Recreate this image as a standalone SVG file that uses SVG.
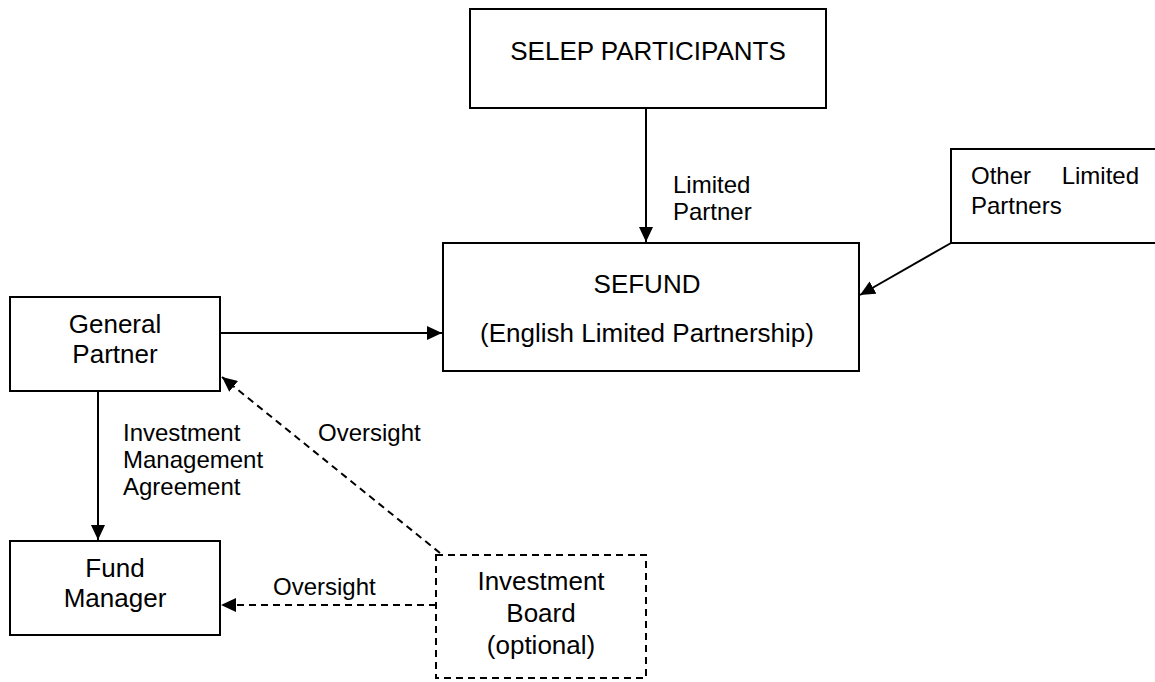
<svg xmlns="http://www.w3.org/2000/svg" width="1155" height="682" viewBox="0 0 1155 682">
  <style>
    .box { fill: #ffffff; stroke: #000000; stroke-width: 2; }
    .dashed { stroke-dasharray: 7 5; }
    .node { font-family: "Liberation Sans", Arial, sans-serif; font-size: 26px; fill: #000000; text-anchor: middle; }
    .label { font-family: "Liberation Sans", Arial, sans-serif; font-size: 24px; fill: #000000; }
    .edge { fill: none; stroke: #000000; stroke-width: 2; }
  </style>
  <defs>
    <marker id="arrow" markerUnits="userSpaceOnUse" markerWidth="16" markerHeight="14" refX="15" refY="7" orient="auto">
      <path d="M0,0 L15,7 L0,14 Z" fill="#000000"/>
    </marker>
  </defs>
  <rect width="1155" height="682" fill="#ffffff"/>

  <g id="connectors">
    <line class="edge" x1="646" y1="108" x2="646" y2="242" marker-end="url(#arrow)"/>
    <line class="edge" x1="951" y1="243" x2="860" y2="295" marker-end="url(#arrow)"/>
    <line class="edge" x1="220" y1="333" x2="442" y2="333" marker-end="url(#arrow)"/>
    <line class="edge" x1="98" y1="391" x2="98" y2="540" marker-end="url(#arrow)"/>
    <line class="edge dashed" x1="440" y1="553" x2="222" y2="377" marker-end="url(#arrow)"/>
    <line class="edge dashed" x1="436" y1="605" x2="221" y2="605" marker-end="url(#arrow)"/>
    <text class="label" x="673" y="193">Limited</text>
    <text class="label" x="673" y="220">Partner</text>
    <text class="label" x="123" y="441">Investment</text>
    <text class="label" x="123" y="468">Management</text>
    <text class="label" x="123" y="495">Agreement</text>
    <text class="label" x="318" y="441">Oversight</text>
    <text class="label" x="273" y="595">Oversight</text>
  </g>

  <g id="selep-participants">
    <rect class="box" x="470" y="9" width="356" height="99"/>
    <text class="node" x="648" y="60">SELEP PARTICIPANTS</text>
  </g>

  <g id="other-limited-partners">
    <rect class="box" x="951" y="149" width="215" height="94"/>
    <text class="label" x="971" y="184">Other</text>
    <text class="label" x="1139" y="184" text-anchor="end">Limited</text>
    <text class="label" x="971" y="214">Partners</text>
  </g>

  <g id="sefund">
    <rect class="box" x="443" y="243" width="416" height="128"/>
    <text class="node" x="647" y="293">SEFUND</text>
    <text class="node" x="647" y="342">(English Limited Partnership)</text>
  </g>

  <g id="general-partner">
    <rect class="box" x="10" y="297" width="210" height="94"/>
    <text class="node" x="115" y="333">General</text>
    <text class="node" x="115" y="363">Partner</text>
  </g>

  <g id="fund-manager">
    <rect class="box" x="10" y="541" width="210" height="94"/>
    <text class="node" x="115" y="577">Fund</text>
    <text class="node" x="115" y="607">Manager</text>
  </g>

  <g id="investment-board">
    <rect class="box dashed" x="436" y="555" width="210" height="123"/>
    <text class="node" x="541" y="590">Investment</text>
    <text class="node" x="541" y="622">Board</text>
    <text class="node" x="541" y="654">(optional)</text>
  </g>
</svg>
